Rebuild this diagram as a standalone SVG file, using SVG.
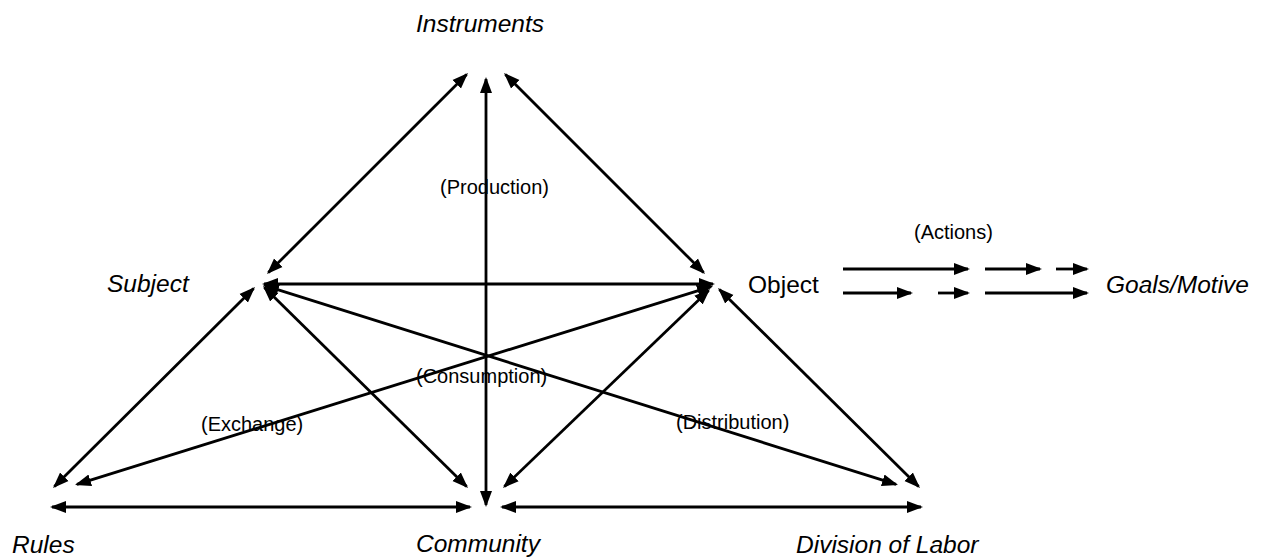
<svg xmlns="http://www.w3.org/2000/svg" width="1262" height="560" viewBox="0 0 1262 560">
<style>
.node{font-family:"Liberation Sans",Arial,sans-serif;font-size:24.5px;fill:#000}
.it{font-style:italic}
.lbl{font-family:"Liberation Sans",Arial,sans-serif;font-size:20px;fill:#000}
.c line{stroke:#000;stroke-width:2.8;fill:none}
.dbl{marker-start:url(#ah);marker-end:url(#ah)}
.one{marker-end:url(#ah)}
</style>
<defs>
<marker id="ah" markerUnits="userSpaceOnUse" markerWidth="17" markerHeight="13" refX="14" refY="6" orient="auto-start-reverse" viewBox="0 0 17 12">
<path d="M0,0 L16,6 L0,12 z" fill="#000"/>
</marker>
</defs>
<rect width="1262" height="560" fill="#fff"/>
<g id="connectors" class="c">
<line class="dbl" x1="466.6" y1="74.4" x2="268.4" y2="272.6"/>
<line class="dbl" x1="486" y1="79" x2="486" y2="505"/>
<line class="dbl" x1="505.4" y1="74.4" x2="703.6" y2="272.6"/>
<line class="dbl" x1="264" y1="284" x2="713" y2="284"/>
<line class="dbl" x1="253.6" y1="288.4" x2="54.4" y2="486.6"/>
<line class="dbl" x1="264.4" y1="287.4" x2="466.6" y2="486.6"/>
<line class="dbl" x1="264.9" y1="285.6" x2="896.1" y2="484.4"/>
<line class="dbl" x1="711.1" y1="286.6" x2="76.9" y2="484.4"/>
<line class="dbl" x1="708.6" y1="290.4" x2="504.4" y2="486.6"/>
<line class="dbl" x1="719.4" y1="289.4" x2="918.6" y2="486.6"/>
<line class="dbl" x1="52" y1="507" x2="470" y2="507"/>
<line class="dbl" x1="502" y1="507" x2="921" y2="507"/>
<line class="one" x1="843" y1="269" x2="968" y2="269"/>
<line class="one" x1="985" y1="269" x2="1040" y2="269"/>
<line class="one" x1="1056" y1="269" x2="1087" y2="269"/>
<line class="one" x1="843" y1="293" x2="911" y2="293"/>
<line class="one" x1="938" y1="293" x2="968" y2="293"/>
<line class="one" x1="985" y1="293" x2="1087" y2="293"/>
</g>
<g id="instruments"><text class="node it" x="416" y="32">Instruments</text></g>
<g id="subject"><text class="node it" x="107" y="292">Subject</text></g>
<g id="object"><text class="node" x="748" y="293">Object</text></g>
<g id="goals"><text class="node it" x="1106" y="293">Goals/Motive</text></g>
<g id="rules"><text class="node it" x="12" y="553">Rules</text></g>
<g id="community"><text class="node it" x="416" y="552">Community</text></g>
<g id="division"><text class="node it" x="796" y="553">Division of Labor</text></g>
<g id="labels">
<text class="lbl" x="440" y="194">(Production)</text>
<text class="lbl" x="914" y="239">(Actions)</text>
<text class="lbl" x="416" y="383">(Consumption)</text>
<text class="lbl" x="201" y="431">(Exchange)</text>
<text class="lbl" x="676" y="429">(Distribution)</text>
</g>
</svg>
